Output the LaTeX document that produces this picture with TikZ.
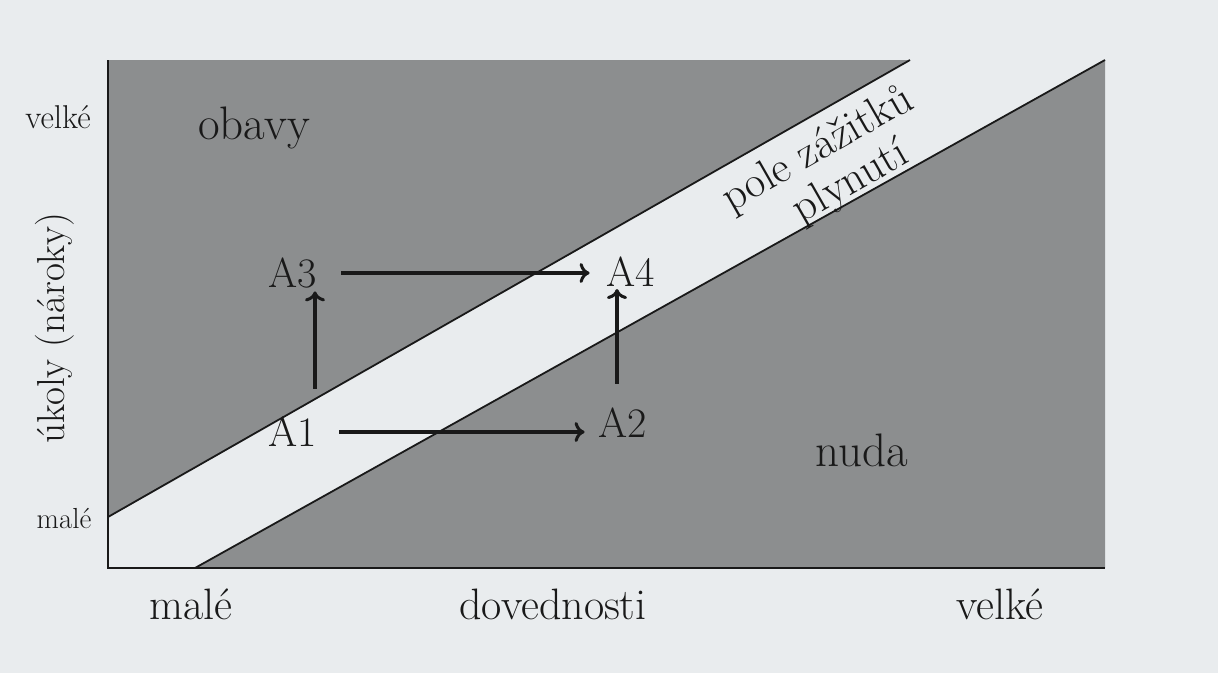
\documentclass[tikz,border=0pt]{standalone}
\usetikzlibrary{arrows.meta}
\definecolor{paper}{RGB}{233,236,238}
\definecolor{dotgray}{RGB}{140,142,143}
\definecolor{ink}{RGB}{25,25,25}
\begin{document}
\begin{tikzpicture}[x=1pt,y=-1pt,
  lbl/.style={inner sep=0pt,text=ink,font=\fontsize{42}{44}\selectfont},
  axl/.style={inner sep=0pt,text=ink,font=\fontsize{33}{35}\selectfont},
  axb/.style={inner sep=0pt,text=ink,font=\fontsize{44}{46}\selectfont},
  big/.style={inner sep=0pt,text=ink,font=\fontsize{47}{49}\selectfont},
  band/.style={inner sep=0pt,text=ink,rotate=29.7,font=\fontsize{44}{46}\selectfont},
  arr/.style={draw=ink,line width=3.2pt,-{To[length=10pt,width=20pt,line width=3pt]}},
  edge/.style={draw=ink,line width=1.8pt}]
\fill[paper] (0,0) rectangle (1218,673);
\useasboundingbox (0,0) rectangle (1218,673);
% shaded regions
\fill[dotgray] (108,60) -- (910,60) -- (108,517) -- cycle;
\fill[dotgray] (195,568) -- (1105,60) -- (1105,568) -- cycle;
% band edges
\draw[edge] (108,517) -- (910,60);
\draw[edge] (195,568) -- (1105,60);
% axes
\draw[edge] (108,60) -- (108,568) -- (1105,568);
% axis labels
\node[axl] (yhi) at (58,117) {velké};
\node[axl,font=\fontsize{29}{31}\selectfont] (ylo) at (64,519) {malé};
\node[axl,rotate=90,font=\fontsize{39}{41}\selectfont] (ylab) at (55,328) {úkoly (nároky)};
\node[axb] (xlo) at (191,604) {malé};
\node[axb] (xlab) at (553,604) {dovednosti};
\node[axb] (xhi) at (1000,604) {velké};
% region labels
\node[big] (obavy) at (254,128) {obavy};
\node[big] (nuda) at (862,450) {nuda};
\node[band] (pole) at (818,150) {pole zážitků};
\node[band] (plyn) at (851,183) {plynutí};
% states
\node[lbl] (A1) at (293,432) {A1};
\node[lbl] (A2) at (623,423) {A2};
\node[lbl] (A3) at (293,273) {A3};
\node[lbl] (A4) at (631,272) {A4};
\coordinate (v1) at (315,0);
\coordinate (v2) at (617,0);
% arrows
\draw[arr,shorten <=22pt,shorten >=14pt] (A1.east) -- (A1 -| A2.west);
\draw[arr,shorten <=24pt,shorten >=17pt] (A3.east) -- (A3 -| A4.west);
\draw[arr,shorten <=28pt,shorten >=3pt] (A1.north -| v1) -- (A3.south -| v1);
\draw[arr,shorten <=24pt,shorten >=2pt] (A2.north -| v2) -- (A4.south -| v2);
\end{tikzpicture}
\end{document}
